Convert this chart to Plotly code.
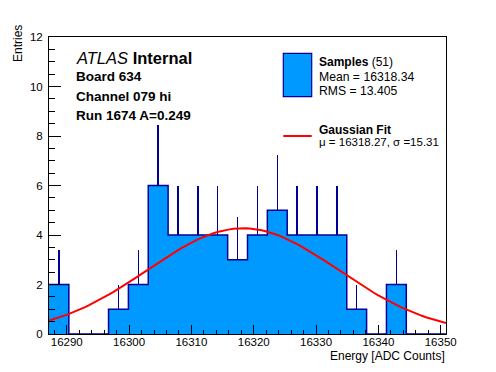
import numpy as np
import plotly.graph_objects as go

# ---------------- data ----------------
hist_lo = 16287.15          # lower edge of the histogram range
hist_hi = 16350.85          # upper edge of the histogram range
counts = [2, 0, 0, 1, 2, 6, 4, 4, 4, 3, 4, 5, 4, 4, 4, 1, 0, 2, 0, 0]

fit_mu = 16318.27
fit_sigma = 15.31
fit_amp = 4.27

x_ticks = [16290, 16300, 16310, 16320, 16330, 16340, 16350]
y_ticks = [0, 2, 4, 6, 8, 10, 12]

n_entries = 51
mean_val = 16318.34
rms_val = 13.405

# ---------------- derived ----------------
nb = len(counts)
bw = (hist_hi - hist_lo) / nb
edges = [hist_lo + i * bw for i in range(nb + 1)]
centers = [hist_lo + (i + 0.5) * bw for i in range(nb)]
errs = [float(np.sqrt(c)) for c in counts]

xf = np.linspace(hist_lo, hist_hi, 100)
yf = fit_amp * np.exp(-0.5 * ((xf - fit_mu) / fit_sigma) ** 2)

FILL = "#0099ff"
EDGE = "#000099"
FONT = "Liberation Sans, Arial, Helvetica, sans-serif"

W, H = 496, 372
L, R, T, B = 49, 50, 37, 38
PW, PH = W - L - R, H - T - B


def px(x):
    return (x - L) / PW


def py(y):
    return (H - B - y) / PH


fig = go.Figure()

fig.add_trace(go.Bar(
    x=centers, y=counts, width=bw,
    marker=dict(color=FILL, line=dict(width=0)),
    error_y=dict(type="data", symmetric=False, array=errs,
                 arrayminus=[0] * nb, width=0, thickness=1.5, color=EDGE),
    showlegend=False, hoverinfo="skip",
))

# histogram outline as a step line
fig.add_trace(go.Scatter(
    x=edges, y=counts + [counts[-1]], mode="lines",
    line=dict(shape="hv", color=EDGE, width=1.5),
    showlegend=False, hoverinfo="skip",
))

fig.add_trace(go.Scatter(
    x=xf, y=yf, mode="lines",
    line=dict(color="#ff0000", width=2),
    showlegend=False, hoverinfo="skip",
))

ann = []


def text(x, y, s, size, anchor="left"):
    ann.append(dict(x=px(x), y=py(y), xref="paper", yref="paper", text=s,
                    showarrow=False, xanchor=anchor, yanchor="middle",
                    font=dict(family=FONT, size=size, color="black")))


text(73.5, 58.5, "<i>ATLAS</i> <b>Internal</b>", 16.5)
text(73.5, 76.5, "<b>Board 634</b>", 13.5)
text(73.5, 96, "<b>Channel 079 hi</b>", 13.5)
text(73.5, 115.5, "<b>Run 1674 A=0.249</b>", 13.5)

text(317, 61.5, "<b>Samples</b> (%d)" % n_entries, 12)
text(317, 76.5, "Mean = %.2f" % mean_val, 12.2)
text(317, 90.5, "RMS = %.3f" % rms_val, 12.2)
text(317, 129.5, "<b>Gaussian Fit</b>", 12)
text(317, 141.5, "μ = %.2f, σ =%.2f" % (fit_mu, fit_sigma), 11.5)

# axis titles
ann.append(dict(x=px(18), y=py(44), xref="paper", yref="paper", text="Entries",
                showarrow=False, textangle=-90, xanchor="center", yanchor="middle",
                font=dict(family=FONT, size=12, color="black")))
text(446.5, 356, "Energy [ADC Counts]", 12, anchor="right")

shapes = [
    dict(type="rect", xref="paper", yref="paper",
         x0=px(283.3), x1=px(311.7), y0=py(96.7), y1=py(53.3),
         fillcolor=FILL, line=dict(color=EDGE, width=1.2)),
    dict(type="line", xref="paper", yref="paper",
         x0=px(283.3), x1=px(311.7), y0=py(136), y1=py(136),
         line=dict(color="#ff0000", width=2)),
]

fig.update_layout(
    width=W, height=H,
    margin=dict(l=L, r=R, t=T, b=B, pad=0),
    paper_bgcolor="white", plot_bgcolor="white",
    bargap=0, showlegend=False,
    annotations=ann, shapes=shapes,
    font=dict(family=FONT, size=11.5, color="black"),
    xaxis=dict(range=[hist_lo, hist_hi], tickvals=x_ticks,
               ticktext=[str(v) for v in x_ticks],
               ticks="inside", ticklen=9, tickwidth=1, tickcolor="black",
               minor=dict(dtick=2, tick0=16290, ticks="inside", ticklen=4.5,
                          tickwidth=1, tickcolor="black", showgrid=False),
               showline=True, linecolor="black", linewidth=1, mirror=True,
               showgrid=False, zeroline=False, automargin=False,
               tickfont=dict(family=FONT, size=11.5),
               ticklabelstandoff=-3),
    yaxis=dict(range=[0, 12], tickvals=y_ticks,
               ticktext=[str(v) for v in y_ticks],
               ticks="inside", ticklen=12, tickwidth=1, tickcolor="black",
               minor=dict(dtick=0.5, tick0=0, ticks="inside", ticklen=6,
                          tickwidth=1, tickcolor="black", showgrid=False),
               showline=True, linecolor="black", linewidth=1, mirror=True,
               showgrid=False, zeroline=False, automargin=False,
               tickfont=dict(family=FONT, size=11.5),
               ticklabelstandoff=3),
)

fig.write_html(
    "out.html",
    config={"displayModeBar": False},
    post_script="document.body.style.margin='0';document.body.style.padding='0';",
)
